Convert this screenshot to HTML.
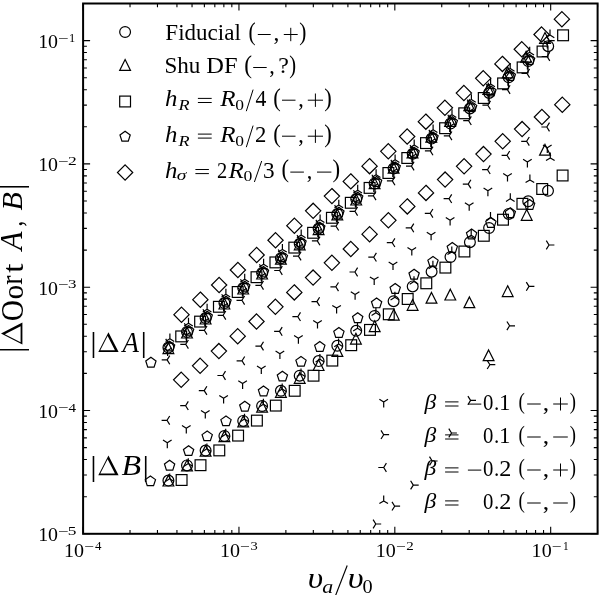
<!DOCTYPE html>
<html><head><meta charset="utf-8"><style>
html,body{margin:0;padding:0;background:#fff;}
body{width:600px;height:595px;overflow:hidden;}
svg{display:block;filter:grayscale(1);}
text{font-family:"Liberation Serif",serif;fill:#000;}
.i{font-style:italic;}
</style></head><body>
<svg width="600" height="595" viewBox="0 0 600 595">
<rect width="600" height="595" fill="#fff"/>
<path d="M83.1 533.8h7M597.6 533.8h-7M83.1 496.68h3.8M597.6 496.68h-3.8M83.1 474.97h3.8M597.6 474.97h-3.8M83.1 459.57h3.8M597.6 459.57h-3.8M83.1 447.62h3.8M597.6 447.62h-3.8M83.1 437.86h3.8M597.6 437.86h-3.8M83.1 429.6h3.8M597.6 429.6h-3.8M83.1 422.45h3.8M597.6 422.45h-3.8M83.1 416.15h3.8M597.6 416.15h-3.8M83.1 410.5h7M597.6 410.5h-7M83.1 373.39h3.8M597.6 373.39h-3.8M83.1 351.68h3.8M597.6 351.68h-3.8M83.1 336.27h3.8M597.6 336.27h-3.8M83.1 324.32h3.8M597.6 324.32h-3.8M83.1 314.56h3.8M597.6 314.56h-3.8M83.1 306.31h3.8M597.6 306.31h-3.8M83.1 299.16h3.8M597.6 299.16h-3.8M83.1 292.85h3.8M597.6 292.85h-3.8M83.1 287.21h7M597.6 287.21h-7M83.1 250.09h3.8M597.6 250.09h-3.8M83.1 228.38h3.8M597.6 228.38h-3.8M83.1 212.98h3.8M597.6 212.98h-3.8M83.1 201.03h3.8M597.6 201.03h-3.8M83.1 191.26h3.8M597.6 191.26h-3.8M83.1 183.01h3.8M597.6 183.01h-3.8M83.1 175.86h3.8M597.6 175.86h-3.8M83.1 169.55h3.8M597.6 169.55h-3.8M83.1 163.91h7M597.6 163.91h-7M83.1 126.8h3.8M597.6 126.8h-3.8M83.1 105.08h3.8M597.6 105.08h-3.8M83.1 89.68h3.8M597.6 89.68h-3.8M83.1 77.73h3.8M597.6 77.73h-3.8M83.1 67.97h3.8M597.6 67.97h-3.8M83.1 59.71h3.8M597.6 59.71h-3.8M83.1 52.56h3.8M597.6 52.56h-3.8M83.1 46.26h3.8M597.6 46.26h-3.8M83.1 40.62h7M597.6 40.62h-7M83.1 3.5h3.8M597.6 3.5h-3.8M83.1 533.8v-7M83.1 3.5v7M130.02 533.8v-3.8M130.02 3.5v3.8M157.46 533.8v-3.8M157.46 3.5v3.8M176.94 533.8v-3.8M176.94 3.5v3.8M192.04 533.8v-3.8M192.04 3.5v3.8M204.38 533.8v-3.8M204.38 3.5v3.8M214.82 533.8v-3.8M214.82 3.5v3.8M223.86 533.8v-3.8M223.86 3.5v3.8M231.83 533.8v-3.8M231.83 3.5v3.8M238.96 533.8v-7M238.96 3.5v7M285.88 533.8v-3.8M285.88 3.5v3.8M313.32 533.8v-3.8M313.32 3.5v3.8M332.8 533.8v-3.8M332.8 3.5v3.8M347.9 533.8v-3.8M347.9 3.5v3.8M360.24 533.8v-3.8M360.24 3.5v3.8M370.68 533.8v-3.8M370.68 3.5v3.8M379.72 533.8v-3.8M379.72 3.5v3.8M387.69 533.8v-3.8M387.69 3.5v3.8M394.82 533.8v-7M394.82 3.5v7M441.74 533.8v-3.8M441.74 3.5v3.8M469.19 533.8v-3.8M469.19 3.5v3.8M488.66 533.8v-3.8M488.66 3.5v3.8M503.76 533.8v-3.8M503.76 3.5v3.8M516.1 533.8v-3.8M516.1 3.5v3.8M526.54 533.8v-3.8M526.54 3.5v3.8M535.58 533.8v-3.8M535.58 3.5v3.8M543.55 533.8v-3.8M543.55 3.5v3.8M550.68 533.8v-7M550.68 3.5v7M597.6 533.8v-3.8M597.6 3.5v3.8" stroke="#000" stroke-width="1.1" fill="none"/>
<g stroke="#000" stroke-width="1.2" fill="none" stroke-linejoin="miter">
<path d="M181.5 307.06L189.14 314.7L181.5 322.34L173.86 314.7Z"/>
<rect x="175.8" y="331" width="10.8" height="10.8"/>
<path d="M200.37 292.03L208 299.66L200.37 307.3L192.73 299.66Z"/>
<rect x="194.7" y="316.2" width="10.8" height="10.8"/>
<path d="M219.13 277.39L226.77 285.03L219.13 292.67L211.49 285.03Z"/>
<rect x="213.5" y="301.4" width="10.8" height="10.8"/>
<path d="M237.9 262.36L245.53 269.99L237.9 277.63L230.26 269.99Z"/>
<rect x="232.3" y="286.6" width="10.8" height="10.8"/>
<path d="M256.66 247.32L264.3 254.96L256.66 262.6L249.02 254.96Z"/>
<rect x="251.1" y="271.8" width="10.8" height="10.8"/>
<path d="M275.52 232.59L283.16 240.22L275.52 247.86L267.89 240.22Z"/>
<rect x="270" y="257" width="10.8" height="10.8"/>
<path d="M294.39 218.05L302.03 225.69L294.39 233.33L286.75 225.69Z"/>
<rect x="288.9" y="242.2" width="10.8" height="10.8"/>
<path d="M313.16 203.22L320.79 210.85L313.16 218.49L305.52 210.85Z"/>
<rect x="307.7" y="227.4" width="10.8" height="10.8"/>
<path d="M331.92 188.48L339.56 196.12L331.92 203.76L324.28 196.12Z"/>
<rect x="326.5" y="212.4" width="10.8" height="10.8"/>
<path d="M350.79 173.75L358.42 181.38L350.79 189.02L343.15 181.38Z"/>
<rect x="345.4" y="197.4" width="10.8" height="10.8"/>
<path d="M369.55 158.51L377.19 166.15L369.55 173.79L361.91 166.15Z"/>
<rect x="364.2" y="182.5" width="10.8" height="10.8"/>
<path d="M388.31 143.68L395.95 151.31L388.31 158.95L380.68 151.31Z"/>
<rect x="383" y="167.6" width="10.8" height="10.8"/>
<path d="M407.18 128.84L414.82 136.48L407.18 144.12L399.54 136.48Z"/>
<rect x="401.9" y="152.6" width="10.8" height="10.8"/>
<path d="M425.85 114.01L433.48 121.65L425.85 129.28L418.21 121.65Z"/>
<rect x="420.6" y="137.7" width="10.8" height="10.8"/>
<path d="M444.91 100.17L452.55 107.81L444.91 115.45L437.27 107.81Z"/>
<rect x="439.7" y="122.8" width="10.8" height="10.8"/>
<path d="M463.88 85.44L471.51 93.08L463.88 100.71L456.24 93.08Z"/>
<rect x="458.83" y="107.9" width="10.8" height="10.8"/>
<path d="M483.24 70.7L490.88 78.34L483.24 85.98L475.6 78.34Z"/>
<rect x="478.36" y="92.6" width="10.8" height="10.8"/>
<path d="M502.4 56.27L510.04 63.91L502.4 71.54L494.77 63.91Z"/>
<rect x="497.69" y="78" width="10.8" height="10.8"/>
<path d="M521.77 41.63L529.41 49.27L521.77 56.91L514.13 49.27Z"/>
<rect x="517.22" y="62" width="10.8" height="10.8"/>
<path d="M541.53 26.9L549.17 34.54L541.53 42.17L533.9 34.54Z"/>
<rect x="537.15" y="46.1" width="10.8" height="10.8"/>
<path d="M561.9 11.56L569.54 19.2L561.9 26.84L554.26 19.2Z"/>
<rect x="557.68" y="29.9" width="10.8" height="10.8"/>
<path d="M150.9 357.3L145.76 361.03L147.73 367.07L154.07 367.07L156.04 361.03Z"/>
<path d="M169.6 341.19L164.46 344.92L166.43 350.96L172.77 350.96L174.74 344.92Z"/>
<path d="M188.6 325.4L183.46 329.13L185.43 335.16L191.77 335.16L193.74 329.13Z"/>
<path d="M207.2 311.32L202.06 315.05L204.03 321.09L210.37 321.09L212.34 315.05Z"/>
<path d="M226 296.32L220.86 300.05L222.83 306.09L229.17 306.09L231.14 300.05Z"/>
<path d="M244.8 281.33L239.66 285.06L241.63 291.1L247.97 291.1L249.94 285.06Z"/>
<path d="M263.5 266.5L258.36 270.23L260.33 276.27L266.67 276.27L268.64 270.23Z"/>
<path d="M282.4 251.65L277.26 255.38L279.23 261.42L285.57 261.42L287.54 255.38Z"/>
<path d="M301 237.35L295.86 241.09L297.83 247.12L304.17 247.12L306.14 241.09Z"/>
<path d="M319.8 222.26L314.66 225.99L316.63 232.03L322.97 232.03L324.94 225.99Z"/>
<path d="M338.9 207.24L333.76 210.97L335.73 217.01L342.07 217.01L344.04 210.97Z"/>
<path d="M357.7 192.34L352.56 196.07L354.53 202.11L360.87 202.11L362.84 196.07Z"/>
<path d="M376.6 176.53L371.46 180.26L373.43 186.3L379.77 186.3L381.74 180.26Z"/>
<path d="M395.2 161.96L390.06 165.69L392.03 171.73L398.37 171.73L400.34 165.69Z"/>
<path d="M414.1 147.27L408.96 151.01L410.93 157.04L417.27 157.04L419.24 151.01Z"/>
<path d="M433 132.08L427.86 135.81L429.83 141.85L436.17 141.85L438.14 135.81Z"/>
<path d="M452.3 116.7L447.16 120.43L449.13 126.47L455.47 126.47L457.44 120.43Z"/>
<path d="M471.6 101.63L466.46 105.36L468.43 111.4L474.77 111.4L476.74 105.36Z"/>
<path d="M490.9 86.07L485.76 89.8L487.73 95.84L494.07 95.84L496.04 89.8Z"/>
<path d="M510.3 70.56L505.16 74.29L507.13 80.33L513.47 80.33L515.44 74.29Z"/>
<path d="M529.6 54.55L524.46 58.28L526.43 64.32L532.77 64.32L534.74 58.28Z"/>
<circle cx="168.4" cy="347.6" r="5.4"/>
<path d="M168.4 342.8L173.8 353.6L163 353.6Z"/>
<path d="M169.9 338.8L169.9 333.4M169.9 338.8L165.58 341.5M169.9 338.8L174.22 341.5"/>
<path d="M168.4 343.2L173.8 343.2M168.4 343.2L165.7 338.88M168.4 343.2L165.7 347.52"/>
<path d="M167.6 350.6L167.6 356M167.6 350.6L171.92 347.9M167.6 350.6L163.28 347.9"/>
<path d="M167.1 359.9L161.7 359.9M167.1 359.9L169.8 364.22M167.1 359.9L169.8 355.58"/>
<circle cx="187" cy="332" r="5.4"/>
<path d="M187 327.2L192.4 338L181.6 338Z"/>
<path d="M188.5 323.2L188.5 317.8M188.5 323.2L184.18 325.9M188.5 323.2L192.82 325.9"/>
<path d="M187 327.6L192.4 327.6M187 327.6L184.3 323.28M187 327.6L184.3 331.92"/>
<path d="M186.2 335L186.2 340.4M186.2 335L190.52 332.3M186.2 335L181.88 332.3"/>
<path d="M185.7 344.3L180.3 344.3M185.7 344.3L188.4 348.62M185.7 344.3L188.4 339.98"/>
<circle cx="205.6" cy="318" r="5.4"/>
<path d="M205.6 313.2L211 324L200.2 324Z"/>
<path d="M207.1 309.2L207.1 303.8M207.1 309.2L202.78 311.9M207.1 309.2L211.42 311.9"/>
<path d="M205.6 313.6L211 313.6M205.6 313.6L202.9 309.28M205.6 313.6L202.9 317.92"/>
<path d="M204.8 321L204.8 326.4M204.8 321L209.12 318.3M204.8 321L200.48 318.3"/>
<path d="M204.3 330.3L198.9 330.3M204.3 330.3L207 334.62M204.3 330.3L207 325.98"/>
<circle cx="224.4" cy="303" r="5.4"/>
<path d="M224.4 298.2L229.8 309L219 309Z"/>
<path d="M225.9 294.2L225.9 288.8M225.9 294.2L221.58 296.9M225.9 294.2L230.22 296.9"/>
<path d="M224.4 298.6L229.8 298.6M224.4 298.6L221.7 294.28M224.4 298.6L221.7 302.92"/>
<path d="M223.6 306L223.6 311.4M223.6 306L227.92 303.3M223.6 306L219.28 303.3"/>
<path d="M223.1 315.3L217.7 315.3M223.1 315.3L225.8 319.62M223.1 315.3L225.8 310.98"/>
<circle cx="243.2" cy="288" r="5.4"/>
<path d="M243.2 283.2L248.6 294L237.8 294Z"/>
<path d="M244.7 279.2L244.7 273.8M244.7 279.2L240.38 281.9M244.7 279.2L249.02 281.9"/>
<path d="M243.2 283.6L248.6 283.6M243.2 283.6L240.5 279.28M243.2 283.6L240.5 287.92"/>
<path d="M242.4 291L242.4 296.4M242.4 291L246.72 288.3M242.4 291L238.08 288.3"/>
<path d="M241.9 300.3L236.5 300.3M241.9 300.3L244.6 304.62M241.9 300.3L244.6 295.98"/>
<circle cx="262.1" cy="273" r="5.4"/>
<path d="M262.1 268.2L267.5 279L256.7 279Z"/>
<path d="M263.6 264.2L263.6 258.8M263.6 264.2L259.28 266.9M263.6 264.2L267.92 266.9"/>
<path d="M262.1 268.6L267.5 268.6M262.1 268.6L259.4 264.28M262.1 268.6L259.4 272.92"/>
<path d="M261.3 276L261.3 281.4M261.3 276L265.62 273.3M261.3 276L256.98 273.3"/>
<path d="M260.8 285.3L255.4 285.3M260.8 285.3L263.5 289.62M260.8 285.3L263.5 280.98"/>
<circle cx="280.9" cy="258.2" r="5.4"/>
<path d="M280.9 253.4L286.3 264.2L275.5 264.2Z"/>
<path d="M282.4 249.4L282.4 244M282.4 249.4L278.08 252.1M282.4 249.4L286.72 252.1"/>
<path d="M280.9 253.8L286.3 253.8M280.9 253.8L278.2 249.48M280.9 253.8L278.2 258.12"/>
<path d="M280.1 261.2L280.1 266.6M280.1 261.2L284.42 258.5M280.1 261.2L275.78 258.5"/>
<path d="M279.6 270.5L274.2 270.5M279.6 270.5L282.3 274.82M279.6 270.5L282.3 266.18"/>
<circle cx="299.7" cy="243.8" r="5.4"/>
<path d="M299.7 239L305.1 249.8L294.3 249.8Z"/>
<path d="M301.2 235L301.2 229.6M301.2 235L296.88 237.7M301.2 235L305.52 237.7"/>
<path d="M299.7 239.4L305.1 239.4M299.7 239.4L297 235.08M299.7 239.4L297 243.72"/>
<path d="M298.9 246.8L298.9 252.2M298.9 246.8L303.22 244.1M298.9 246.8L294.58 244.1"/>
<path d="M298.4 256.1L293 256.1M298.4 256.1L301.1 260.42M298.4 256.1L301.1 251.78"/>
<circle cx="318.6" cy="228.6" r="5.4"/>
<path d="M318.6 223.8L324 234.6L313.2 234.6Z"/>
<path d="M320.1 219.8L320.1 214.4M320.1 219.8L315.78 222.5M320.1 219.8L324.42 222.5"/>
<path d="M318.6 224.2L324 224.2M318.6 224.2L315.9 219.88M318.6 224.2L315.9 228.52"/>
<path d="M317.8 231.6L317.8 237M317.8 231.6L322.12 228.9M317.8 231.6L313.48 228.9"/>
<path d="M317.3 240.9L311.9 240.9M317.3 240.9L320 245.22M317.3 240.9L320 236.58"/>
<circle cx="337.3" cy="213.9" r="5.4"/>
<path d="M337.3 209.1L342.7 219.9L331.9 219.9Z"/>
<path d="M338.8 205.1L338.8 199.7M338.8 205.1L334.48 207.8M338.8 205.1L343.12 207.8"/>
<path d="M337.3 209.5L342.7 209.5M337.3 209.5L334.6 205.18M337.3 209.5L334.6 213.82"/>
<path d="M336.5 216.9L336.5 222.3M336.5 216.9L340.82 214.2M336.5 216.9L332.18 214.2"/>
<path d="M336 226.2L330.6 226.2M336 226.2L338.7 230.52M336 226.2L338.7 221.88"/>
<circle cx="356.2" cy="199" r="5.4"/>
<path d="M356.2 194.2L361.6 205L350.8 205Z"/>
<path d="M357.7 190.2L357.7 184.8M357.7 190.2L353.38 192.9M357.7 190.2L362.02 192.9"/>
<path d="M356.2 194.6L361.6 194.6M356.2 194.6L353.5 190.28M356.2 194.6L353.5 198.92"/>
<path d="M355.4 202L355.4 207.4M355.4 202L359.72 199.3M355.4 202L351.08 199.3"/>
<path d="M354.9 211.3L349.5 211.3M354.9 211.3L357.6 215.62M354.9 211.3L357.6 206.98"/>
<circle cx="374.6" cy="183.5" r="5.4"/>
<path d="M374.6 177.8L380 188.6L369.2 188.6Z"/>
<path d="M376.1 174.7L376.1 169.3M376.1 174.7L371.78 177.4M376.1 174.7L380.42 177.4"/>
<path d="M374.6 179.1L380 179.1M374.6 179.1L371.9 174.78M374.6 179.1L371.9 183.42"/>
<path d="M373.8 186.5L373.8 191.9M373.8 186.5L378.12 183.8M373.8 186.5L369.48 183.8"/>
<path d="M373.3 195.8L367.9 195.8M373.3 195.8L376 200.12M373.3 195.8L376 191.48"/>
<circle cx="393.6" cy="168.6" r="5.4"/>
<path d="M393.6 162.4L399 173.2L388.2 173.2Z"/>
<path d="M395.1 159.8L395.1 154.4M395.1 159.8L390.78 162.5M395.1 159.8L399.42 162.5"/>
<path d="M393.6 164.2L399 164.2M393.6 164.2L390.9 159.88M393.6 164.2L390.9 168.52"/>
<path d="M392.8 171.6L392.8 177M392.8 171.6L397.12 168.9M392.8 171.6L388.48 168.9"/>
<path d="M392.3 180.9L386.9 180.9M392.3 180.9L395 185.22M392.3 180.9L395 176.58"/>
<circle cx="412.7" cy="153.8" r="5.4"/>
<path d="M412.5 147.1L417.9 157.9L407.1 157.9Z"/>
<path d="M414.2 145L414.2 139.6M414.2 145L409.88 147.7M414.2 145L418.52 147.7"/>
<path d="M412.7 149.4L418.1 149.4M412.7 149.4L410 145.08M412.7 149.4L410 153.72"/>
<path d="M411.9 156.8L411.9 162.2M411.9 156.8L416.22 154.1M411.9 156.8L407.58 154.1"/>
<path d="M411.4 166.1L406 166.1M411.4 166.1L414.1 170.42M411.4 166.1L414.1 161.78"/>
<circle cx="431.6" cy="138.6" r="5.4"/>
<path d="M431.3 131.4L436.7 142.2L425.9 142.2Z"/>
<path d="M433.1 129.8L433.1 124.4M433.1 129.8L428.78 132.5M433.1 129.8L437.42 132.5"/>
<path d="M431.6 134.2L437 134.2M431.6 134.2L428.9 129.88M431.6 134.2L428.9 138.52"/>
<path d="M430.8 141.6L430.8 147M430.8 141.6L435.12 138.9M430.8 141.6L426.48 138.9"/>
<path d="M430.3 150.9L424.9 150.9M430.3 150.9L433 155.22M430.3 150.9L433 146.58"/>
<circle cx="450.5" cy="123.5" r="5.4"/>
<path d="M450.1 115.7L455.5 126.5L444.7 126.5Z"/>
<path d="M452 114.7L452 109.3M452 114.7L447.68 117.4M452 114.7L456.32 117.4"/>
<path d="M450.5 119.1L455.9 119.1M450.5 119.1L447.8 114.78M450.5 119.1L447.8 123.42"/>
<path d="M449.7 126.5L449.7 131.9M449.7 126.5L454.02 123.8M449.7 126.5L445.38 123.8"/>
<path d="M449.2 135.8L443.8 135.8M449.2 135.8L451.9 140.12M449.2 135.8L451.9 131.48"/>
<circle cx="469.9" cy="108.4" r="5.4"/>
<path d="M469.3 99.8L474.7 110.6L463.9 110.6Z"/>
<path d="M471.4 99.6L471.4 94.2M471.4 99.6L467.08 102.3M471.4 99.6L475.72 102.3"/>
<path d="M469.9 104L475.3 104M469.9 104L467.2 99.68M469.9 104L467.2 108.32"/>
<path d="M469.1 111.4L469.1 116.8M469.1 111.4L473.42 108.7M469.1 111.4L464.78 108.7"/>
<path d="M468.6 120.7L463.2 120.7M468.6 120.7L471.3 125.02M468.6 120.7L471.3 116.38"/>
<circle cx="489.1" cy="92.9" r="5.4"/>
<path d="M488.3 83.5L493.7 94.3L482.9 94.3Z"/>
<path d="M490.6 84.1L490.6 78.7M490.6 84.1L486.28 86.8M490.6 84.1L494.92 86.8"/>
<path d="M489.1 88.5L494.5 88.5M489.1 88.5L486.4 84.18M489.1 88.5L486.4 92.82"/>
<path d="M488.3 95.9L488.3 101.3M488.3 95.9L492.62 93.2M488.3 95.9L483.98 93.2"/>
<path d="M487.8 105.2L482.4 105.2M487.8 105.2L490.5 109.52M487.8 105.2L490.5 100.88"/>
<circle cx="508.7" cy="77.3" r="5.4"/>
<path d="M507.7 67.1L513.1 77.9L502.3 77.9Z"/>
<path d="M510.2 68.5L510.2 63.1M510.2 68.5L505.88 71.2M510.2 68.5L514.52 71.2"/>
<path d="M508.7 72.9L514.1 72.9M508.7 72.9L506 68.58M508.7 72.9L506 77.22"/>
<path d="M507.9 80.3L507.9 85.7M507.9 80.3L512.22 77.6M507.9 80.3L503.58 77.6"/>
<path d="M507.4 89.6L502 89.6M507.4 89.6L510.1 93.92M507.4 89.6L510.1 85.28"/>
<circle cx="528.2" cy="61" r="5.4"/>
<path d="M526.1 51.3L531.5 62.1L520.7 62.1Z"/>
<path d="M529.7 52.2L529.7 46.8M529.7 52.2L525.38 54.9M529.7 52.2L534.02 54.9"/>
<path d="M528.2 56.6L533.6 56.6M528.2 56.6L525.5 52.28M528.2 56.6L525.5 60.92"/>
<path d="M527.4 64L527.4 69.4M527.4 64L531.72 61.3M527.4 64L523.08 61.3"/>
<path d="M526.9 73.3L521.5 73.3M526.9 73.3L529.6 77.62M526.9 73.3L529.6 68.98"/>
<circle cx="548.2" cy="46.2" r="5.4"/>
<path d="M545 32.5L550.4 43.3L539.6 43.3Z"/>
<path d="M550 35L550 29.6M550 35L545.68 37.7M550 35L554.32 37.7"/>
<path d="M549.3 40.6L554.7 40.6M549.3 40.6L546.6 36.28M549.3 40.6L546.6 44.92"/>
<path d="M547.3 43L547.3 48.4M547.3 43L551.62 40.3M547.3 43L542.98 40.3"/>
<path d="M547.1 56.5L541.7 56.5M547.1 56.5L549.8 60.82M547.1 56.5L549.8 52.18"/>
<path d="M181.2 372.16L188.84 379.8L181.2 387.44L173.56 379.8Z"/>
<rect x="176.2" y="474.6" width="10.8" height="10.8"/>
<path d="M150.4 475.9L145.26 479.63L147.23 485.67L153.57 485.67L155.54 479.63Z"/>
<circle cx="168.4" cy="480.6" r="5.4"/>
<path d="M168.4 475.2L173.8 486L163 486Z"/>
<path d="M167.3 442.8L167.3 448.2M167.3 442.8L171.62 440.1M167.3 442.8L162.98 440.1"/>
<path d="M167 420.3L161.6 420.3M167 420.3L169.7 424.62M167 420.3L169.7 415.98"/>
<path d="M169.7 478.8L169.7 473.4M169.7 478.8L165.38 481.5M169.7 478.8L174.02 481.5"/>
<path d="M200.1 358.16L207.74 365.8L200.1 373.44L192.46 365.8Z"/>
<rect x="195.1" y="459.8" width="10.8" height="10.8"/>
<path d="M169.6 460.3L164.46 464.03L166.43 470.07L172.77 470.07L174.74 464.03Z"/>
<circle cx="187" cy="465.4" r="5.4"/>
<path d="M187 460L192.4 470.8L181.6 470.8Z"/>
<path d="M186.3 428.2L186.3 433.6M186.3 428.2L190.62 425.5M186.3 428.2L181.98 425.5"/>
<path d="M185.6 405.7L180.2 405.7M185.6 405.7L188.3 410.02M185.6 405.7L188.3 401.38"/>
<path d="M188.3 463.6L188.3 458.2M188.3 463.6L183.98 466.3M188.3 463.6L192.62 466.3"/>
<path d="M218.9 343.46L226.54 351.1L218.9 358.74L211.26 351.1Z"/>
<rect x="213.9" y="445" width="10.8" height="10.8"/>
<path d="M188.6 445.7L183.46 449.43L185.43 455.47L191.77 455.47L193.74 449.43Z"/>
<circle cx="205.6" cy="450.6" r="5.4"/>
<path d="M205.6 445.4L211 456.2L200.2 456.2Z"/>
<path d="M205.3 413.2L205.3 418.6M205.3 413.2L209.62 410.5M205.3 413.2L200.98 410.5"/>
<path d="M204.2 390.6L198.8 390.6M204.2 390.6L206.9 394.92M204.2 390.6L206.9 386.28"/>
<path d="M206.9 448.8L206.9 443.4M206.9 448.8L202.58 451.5M206.9 448.8L211.22 451.5"/>
<path d="M237.7 328.56L245.34 336.2L237.7 343.84L230.06 336.2Z"/>
<rect x="232.7" y="430.2" width="10.8" height="10.8"/>
<path d="M207.2 430.9L202.06 434.63L204.03 440.67L210.37 440.67L212.34 434.63Z"/>
<circle cx="224.4" cy="436" r="5.4"/>
<path d="M224.4 430.9L229.8 441.7L219 441.7Z"/>
<path d="M223.6 398.2L223.6 403.6M223.6 398.2L227.92 395.5M223.6 398.2L219.28 395.5"/>
<path d="M222.8 375.5L217.4 375.5M222.8 375.5L225.5 379.82M222.8 375.5L225.5 371.18"/>
<path d="M225.7 434.2L225.7 428.8M225.7 434.2L221.38 436.9M225.7 434.2L230.02 436.9"/>
<path d="M256.5 313.86L264.14 321.5L256.5 329.14L248.86 321.5Z"/>
<rect x="251.5" y="415.2" width="10.8" height="10.8"/>
<path d="M226 415.9L220.86 419.63L222.83 425.67L229.17 425.67L231.14 419.63Z"/>
<circle cx="243.2" cy="420.9" r="5.4"/>
<path d="M243.2 416L248.6 426.8L237.8 426.8Z"/>
<path d="M242.6 383.5L242.6 388.9M242.6 383.5L246.92 380.8M242.6 383.5L238.28 380.8"/>
<path d="M242 360.8L236.6 360.8M242 360.8L244.7 365.12M242 360.8L244.7 356.48"/>
<path d="M244.5 419.1L244.5 413.7M244.5 419.1L240.18 421.8M244.5 419.1L248.82 421.8"/>
<path d="M275.4 299.16L283.04 306.8L275.4 314.44L267.76 306.8Z"/>
<rect x="270.4" y="400.2" width="10.8" height="10.8"/>
<path d="M244.8 401.3L239.66 405.03L241.63 411.07L247.97 411.07L249.94 405.03Z"/>
<circle cx="262.1" cy="406" r="5.4"/>
<path d="M262.1 401.3L267.5 412.1L256.7 412.1Z"/>
<path d="M261.3 368.7L261.3 374.1M261.3 368.7L265.62 366M261.3 368.7L256.98 366"/>
<path d="M260.8 346.1L255.4 346.1M260.8 346.1L263.5 350.42M260.8 346.1L263.5 341.78"/>
<path d="M263.4 404.2L263.4 398.8M263.4 404.2L259.08 406.9M263.4 404.2L267.72 406.9"/>
<path d="M294.3 284.76L301.94 292.4L294.3 300.04L286.66 292.4Z"/>
<rect x="289.3" y="385.4" width="10.8" height="10.8"/>
<path d="M263.5 386.1L258.36 389.83L260.33 395.87L266.67 395.87L268.64 389.83Z"/>
<circle cx="280.9" cy="390.8" r="5.4"/>
<path d="M280.9 386.5L286.3 397.3L275.5 397.3Z"/>
<path d="M279.9 353.7L279.9 359.1M279.9 353.7L284.22 351M279.9 353.7L275.58 351"/>
<path d="M279.5 331.4L274.1 331.4M279.5 331.4L282.2 335.72M279.5 331.4L282.2 327.08"/>
<path d="M282.2 389L282.2 383.6M282.2 389L277.88 391.7M282.2 389L286.52 391.7"/>
<path d="M313.1 269.96L320.74 277.6L313.1 285.24L305.46 277.6Z"/>
<rect x="308.1" y="370.3" width="10.8" height="10.8"/>
<path d="M282.4 371.2L277.26 374.93L279.23 380.97L285.57 380.97L287.54 374.93Z"/>
<circle cx="299.7" cy="375.7" r="5.4"/>
<path d="M299.7 372.5L305.1 383.3L294.3 383.3Z"/>
<path d="M298.4 338.3L298.4 343.7M298.4 338.3L302.72 335.6M298.4 338.3L294.08 335.6"/>
<path d="M297.8 316.7L292.4 316.7M297.8 316.7L300.5 321.02M297.8 316.7L300.5 312.38"/>
<path d="M301 373.9L301 368.5M301 373.9L296.68 376.6M301 373.9L305.32 376.6"/>
<path d="M331.9 255.16L339.54 262.8L331.9 270.44L324.26 262.8Z"/>
<rect x="326.9" y="355.2" width="10.8" height="10.8"/>
<path d="M301 356.4L295.86 360.13L297.83 366.17L304.17 366.17L306.14 360.13Z"/>
<circle cx="318.6" cy="361.1" r="5.4"/>
<path d="M318.6 359.7L324 370.5L313.2 370.5Z"/>
<path d="M317.5 323.2L317.5 328.6M317.5 323.2L321.82 320.5M317.5 323.2L313.18 320.5"/>
<path d="M316.9 301.6L311.5 301.6M316.9 301.6L319.6 305.92M316.9 301.6L319.6 297.28"/>
<path d="M319.9 359.3L319.9 353.9M319.9 359.3L315.58 362M319.9 359.3L324.22 362"/>
<path d="M350.8 241.36L358.44 249L350.8 256.64L343.16 249Z"/>
<rect x="345.8" y="339.8" width="10.8" height="10.8"/>
<path d="M319.8 341.6L314.66 345.33L316.63 351.37L322.97 351.37L324.94 345.33Z"/>
<circle cx="337.3" cy="345.8" r="5.4"/>
<path d="M337.4 345.6L342.8 356.4L332 356.4Z"/>
<path d="M336.6 308.1L336.6 313.5M336.6 308.1L340.92 305.4M336.6 308.1L332.28 305.4"/>
<path d="M335.8 286.8L330.4 286.8M335.8 286.8L338.5 291.12M335.8 286.8L338.5 282.48"/>
<path d="M338.6 344L338.6 338.6M338.6 344L334.28 346.7M338.6 344L342.92 346.7"/>
<path d="M369.6 226.56L377.24 234.2L369.6 241.84L361.96 234.2Z"/>
<rect x="364.6" y="324.5" width="10.8" height="10.8"/>
<path d="M338.9 327.6L333.76 331.33L335.73 337.37L342.07 337.37L344.04 331.33Z"/>
<circle cx="356.2" cy="330.8" r="5.4"/>
<path d="M355.9 333.3L361.3 344.1L350.5 344.1Z"/>
<path d="M355.1 294.4L355.1 299.8M355.1 294.4L359.42 291.7M355.1 294.4L350.78 291.7"/>
<path d="M354.9 272L349.5 272M354.9 272L357.6 276.32M354.9 272L357.6 267.68"/>
<path d="M357.5 328.3L357.5 322.9M357.5 328.3L353.18 331M357.5 328.3L361.82 331"/>
<path d="M388.4 212.66L396.04 220.3L388.4 227.94L380.76 220.3Z"/>
<rect x="383.4" y="308.9" width="10.8" height="10.8"/>
<path d="M357.7 312.8L352.56 316.53L354.53 322.57L360.87 322.57L362.84 316.53Z"/>
<circle cx="374.6" cy="316" r="5.4"/>
<path d="M374.7 320.8L380.1 331.6L369.3 331.6Z"/>
<path d="M374.2 279.6L374.2 285M374.2 279.6L378.52 276.9M374.2 279.6L369.88 276.9"/>
<path d="M373.7 257.2L368.3 257.2M373.7 257.2L376.4 261.52M373.7 257.2L376.4 252.88"/>
<path d="M375.9 312.8L375.9 307.4M375.9 312.8L371.58 315.5M375.9 312.8L380.22 315.5"/>
<path d="M407.3 198.76L414.94 206.4L407.3 214.04L399.66 206.4Z"/>
<rect x="402.3" y="293.6" width="10.8" height="10.8"/>
<path d="M376.6 298L371.46 301.73L373.43 307.77L379.77 307.77L381.74 301.73Z"/>
<circle cx="393.6" cy="301.2" r="5.4"/>
<path d="M393.8 309.3L399.2 320.1L388.4 320.1Z"/>
<path d="M393 264.7L393 270.1M393 264.7L397.32 262M393 264.7L388.68 262"/>
<path d="M392.2 242.7L386.8 242.7M392.2 242.7L394.9 247.02M392.2 242.7L394.9 238.38"/>
<path d="M394.9 297.2L394.9 291.8M394.9 297.2L390.58 299.9M394.9 297.2L399.22 299.9"/>
<path d="M426 185.26L433.64 192.9L426 200.54L418.36 192.9Z"/>
<rect x="420.9" y="277.9" width="10.8" height="10.8"/>
<path d="M395.2 283.6L390.06 287.33L392.03 293.37L398.37 293.37L400.34 287.33Z"/>
<circle cx="412.7" cy="286.4" r="5.4"/>
<path d="M412.6 299.5L418 310.3L407.2 310.3Z"/>
<path d="M411.8 250.2L411.8 255.6M411.8 250.2L416.12 247.5M411.8 250.2L407.48 247.5"/>
<path d="M411.1 227.9L405.7 227.9M411.1 227.9L413.8 232.22M411.1 227.9L413.8 223.58"/>
<path d="M414 281.6L414 276.2M414 281.6L409.68 284.3M414 281.6L418.32 284.3"/>
<path d="M445.1 171.96L452.74 179.6L445.1 187.24L437.46 179.6Z"/>
<rect x="440" y="262.2" width="10.8" height="10.8"/>
<path d="M414.1 269.3L408.96 273.03L410.93 279.07L417.27 279.07L419.24 273.03Z"/>
<circle cx="431.6" cy="271.7" r="5.4"/>
<path d="M431.5 292.4L436.9 303.2L426.1 303.2Z"/>
<path d="M431.1 234.9L431.1 240.3M431.1 234.9L435.42 232.2M431.1 234.9L426.78 232.2"/>
<path d="M430.2 213.3L424.8 213.3M430.2 213.3L432.9 217.62M430.2 213.3L432.9 208.98"/>
<path d="M432.9 266.1L432.9 260.7M432.9 266.1L428.58 268.8M432.9 266.1L437.22 268.8"/>
<path d="M464.1 158.66L471.74 166.3L464.1 173.94L456.46 166.3Z"/>
<rect x="459" y="246.1" width="10.8" height="10.8"/>
<path d="M433 256.4L427.86 260.13L429.83 266.17L436.17 266.17L438.14 260.13Z"/>
<circle cx="450.5" cy="257" r="5.4"/>
<path d="M450.3 289.2L455.7 300L444.9 300Z"/>
<path d="M450.1 220.2L450.1 225.6M450.1 220.2L454.42 217.5M450.1 220.2L445.78 217.5"/>
<path d="M449 198.7L443.6 198.7M449 198.7L451.7 203.02M449 198.7L451.7 194.38"/>
<path d="M451.8 251.9L451.8 246.5M451.8 251.9L447.48 254.6M451.8 251.9L456.12 254.6"/>
<path d="M483.5 146.46L491.14 154.1L483.5 161.74L475.86 154.1Z"/>
<rect x="478.4" y="230.4" width="10.8" height="10.8"/>
<path d="M452.3 242.6L447.16 246.33L449.13 252.37L455.47 252.37L457.44 246.33Z"/>
<circle cx="469.9" cy="242.2" r="5.4"/>
<path d="M469.4 296.9L474.8 307.7L464 307.7Z"/>
<path d="M469.2 205.4L469.2 210.8M469.2 205.4L473.52 202.7M469.2 205.4L464.88 202.7"/>
<path d="M468.2 184.1L462.8 184.1M468.2 184.1L470.9 188.42M468.2 184.1L470.9 179.78"/>
<path d="M471.2 235.2L471.2 229.8M471.2 235.2L466.88 237.9M471.2 235.2L475.52 237.9"/>
<path d="M502.7 133.66L510.34 141.3L502.7 148.94L495.06 141.3Z"/>
<rect x="497.6" y="214.3" width="10.8" height="10.8"/>
<path d="M471.6 229.1L466.46 232.83L468.43 238.87L474.77 238.87L476.74 232.83Z"/>
<circle cx="489.1" cy="228" r="5.4"/>
<path d="M488.6 349.9L494 360.7L483.2 360.7Z"/>
<path d="M487.9 190.8L487.9 196.2M487.9 190.8L492.22 188.1M487.9 190.8L483.58 188.1"/>
<path d="M487.5 169.7L482.1 169.7M487.5 169.7L490.2 174.02M487.5 169.7L490.2 165.38"/>
<path d="M522.1 121.46L529.74 129.1L522.1 136.74L514.46 129.1Z"/>
<rect x="517" y="198.4" width="10.8" height="10.8"/>
<path d="M490.9 217.6L485.76 221.33L487.73 227.37L494.07 227.37L496.04 221.33Z"/>
<circle cx="508.7" cy="213.9" r="5.4"/>
<path d="M507.7 285.8L513.1 296.6L502.3 296.6Z"/>
<path d="M507.5 176.2L507.5 181.6M507.5 176.2L511.82 173.5M507.5 176.2L503.18 173.5"/>
<path d="M507 155.3L501.6 155.3M507 155.3L509.7 159.62M507 155.3L509.7 150.98"/>
<path d="M541.9 109.36L549.54 117L541.9 124.64L534.26 117Z"/>
<rect x="536.8" y="183.6" width="10.8" height="10.8"/>
<path d="M510.3 207.8L505.16 211.53L507.13 217.57L513.47 217.57L515.44 211.53Z"/>
<circle cx="528.2" cy="201.3" r="5.4"/>
<path d="M526.7 209.5L532.1 220.3L521.3 220.3Z"/>
<path d="M527.4 162L527.4 167.4M527.4 162L531.72 159.3M527.4 162L523.08 159.3"/>
<path d="M526.6 141.3L521.2 141.3M526.6 141.3L529.3 145.62M526.6 141.3L529.3 136.98"/>
<path d="M562.3 97.06L569.94 104.7L562.3 112.34L554.66 104.7Z"/>
<rect x="557.2" y="170.1" width="10.8" height="10.8"/>
<path d="M529.6 199.6L524.46 203.33L526.43 209.37L532.77 209.37L534.74 203.33Z"/>
<circle cx="548" cy="190.8" r="5.4"/>
<path d="M545 144.4L550.4 155.2L539.6 155.2Z"/>
<path d="M547.3 147.7L547.3 153.1M547.3 147.7L551.62 145M547.3 147.7L542.98 145"/>
<path d="M546.8 127L541.4 127M546.8 127L549.5 131.32M546.8 127L549.5 122.68"/>
<path d="M490.5 217.5L490.5 212.1M490.5 217.5L486.18 220.2M490.5 217.5L494.82 220.2"/>
<path d="M510.3 198.7L510.3 193.3M510.3 198.7L505.98 201.4M510.3 198.7L514.62 201.4"/>
<path d="M529.9 179.9L529.9 174.5M529.9 179.9L525.58 182.6M529.9 179.9L534.22 182.6"/>
<path d="M550.3 157.9L550.3 152.5M550.3 157.9L545.98 160.6M550.3 157.9L554.62 160.6"/>
<path d="M375.8 524L381.2 524M375.8 524L373.1 519.68M375.8 524L373.1 528.32"/>
<path d="M394.7 506.2L400.1 506.2M394.7 506.2L392 501.88M394.7 506.2L392 510.52"/>
<path d="M413.3 485.1L418.7 485.1M413.3 485.1L410.6 480.78M413.3 485.1L410.6 489.42"/>
<path d="M432.2 461L437.6 461M432.2 461L429.5 456.68M432.2 461L429.5 465.32"/>
<path d="M451.5 433L456.9 433M451.5 433L448.8 428.68M451.5 433L448.8 437.32"/>
<path d="M470.6 400.4L476 400.4M470.6 400.4L467.9 396.08M470.6 400.4L467.9 404.72"/>
<path d="M489.9 364.7L495.3 364.7M489.9 364.7L487.2 360.38M489.9 364.7L487.2 369.02"/>
<path d="M509.6 325.8L515 325.8M509.6 325.8L506.9 321.48M509.6 325.8L506.9 330.12"/>
<path d="M529 286.4L534.4 286.4M529 286.4L526.3 282.08M529 286.4L526.3 290.72"/>
<path d="M549 245L554.4 245M549 245L546.3 240.68M549 245L546.3 249.32"/>
<circle cx="125.1" cy="32" r="5.4"/>
<path d="M125.1 59.6L130.5 70.4L119.7 70.4Z"/>
<rect x="119.7" y="96.1" width="10.8" height="10.8"/>
<path d="M125.1 131.3L119.96 135.03L121.93 141.07L128.27 141.07L130.24 135.03Z"/>
<path d="M125.1 164.86L132.74 172.5L125.1 180.14L117.46 172.5Z"/>
<path d="M383.7 402L383.7 407.4M383.7 402L388.02 399.3M383.7 402L379.38 399.3"/>
<path d="M383.7 434.7L389.1 434.7M383.7 434.7L381 430.38M383.7 434.7L381 439.02"/>
<path d="M383.7 467.5L378.3 467.5M383.7 467.5L386.4 471.82M383.7 467.5L386.4 463.18"/>
<path d="M383.7 500.9L383.7 495.5M383.7 500.9L379.38 503.6M383.7 500.9L388.02 503.6"/>
</g>
<rect x="83.1" y="3.5" width="514.5" height="530.3" fill="none" stroke="#000" stroke-width="2"/>
<text font-size="18.60" transform="translate(38.15 541.30) scale(1.0703 1.0000)">10</text>
<text font-size="12.90" transform="translate(57.67 535.70) scale(1.4493 1.0000)">−</text>
<text font-size="12.90" transform="translate(67.79 534.90) scale(1.3471 1.0000)">5</text>
<text font-size="18.60" transform="translate(38.15 418.00) scale(1.0703 1.0000)">10</text>
<text font-size="12.90" transform="translate(57.67 412.40) scale(1.4493 1.0000)">−</text>
<text font-size="12.90" transform="translate(68.51 411.60) scale(1.1674 1.0000)">4</text>
<text font-size="18.60" transform="translate(38.15 294.71) scale(1.0703 1.0000)">10</text>
<text font-size="12.90" transform="translate(57.67 289.11) scale(1.4493 1.0000)">−</text>
<text font-size="12.90" transform="translate(67.99 288.31) scale(1.3136 1.0000)">3</text>
<text font-size="18.60" transform="translate(38.15 171.41) scale(1.0703 1.0000)">10</text>
<text font-size="12.90" transform="translate(57.67 165.81) scale(1.4493 1.0000)">−</text>
<text font-size="12.90" transform="translate(68.03 165.01) scale(1.3536 1.0000)">2</text>
<text font-size="18.60" transform="translate(38.15 48.12) scale(1.0703 1.0000)">10</text>
<text font-size="12.90" transform="translate(57.67 42.52) scale(1.4493 1.0000)">−</text>
<text font-size="12.90" transform="translate(69.10 41.72) scale(0.9689 1.0000)">1</text>
<text font-size="18.60" transform="translate(64.04 557.00) scale(1.0765 1.0000)">10</text>
<text font-size="12.90" transform="translate(83.93 551.00) scale(1.3494 1.0000)">−</text>
<text font-size="12.90" transform="translate(95.05 550.00) scale(1.0006 1.0000)">4</text>
<text font-size="18.60" transform="translate(219.90 557.00) scale(1.0765 1.0000)">10</text>
<text font-size="12.90" transform="translate(239.79 551.00) scale(1.3494 1.0000)">−</text>
<text font-size="12.90" transform="translate(250.47 550.00) scale(1.1260 1.0000)">3</text>
<text font-size="18.60" transform="translate(375.76 557.00) scale(1.0765 1.0000)">10</text>
<text font-size="12.90" transform="translate(395.65 551.00) scale(1.3494 1.0000)">−</text>
<text font-size="12.90" transform="translate(406.36 550.00) scale(1.1602 1.0000)">2</text>
<text font-size="18.60" transform="translate(531.62 557.00) scale(1.0765 1.0000)">10</text>
<text font-size="12.90" transform="translate(551.51 551.00) scale(1.3494 1.0000)">−</text>
<text font-size="12.90" transform="translate(562.88 550.00) scale(0.8808 1.0000)">1</text>
<g transform="translate(22.40 350.60) rotate(-90)"><text font-size="31.50" transform="translate(-2.26 0) scale(0.9561 1)">|</text></g>
<g transform="translate(22.40 344.40) rotate(-90)"><path fill-rule="evenodd" d="M0.00 0.00L10.95 -21.40L21.90 0.00ZM2.04 -1.80L10.11 -17.56L18.17 -1.80Z"/></g>
<g transform="translate(22.70 320.10) rotate(-90)"><text font-size="30.50" transform="translate(-1.21 0) scale(0.9680 1)">O</text></g>
<g transform="translate(22.70 298.20) rotate(-90)"><text font-size="30.50" transform="translate(-1.10 0) scale(0.9438 1)">o</text></g>
<g transform="translate(22.40 284.30) rotate(-90)"><text font-size="30.50" transform="translate(-0.55 0) scale(0.9054 1)">r</text></g>
<g transform="translate(22.70 272.50) rotate(-90)"><text font-size="30.50" transform="translate(-0.32 0) scale(1.0879 1)">t</text></g>
<g transform="translate(22.40 251.90) rotate(-90)"><text class="i" font-size="30.50" transform="translate(1.68 0) scale(1.0048 1)">A</text></g>
<g transform="translate(22.40 225.60) rotate(-90)"><text font-size="30.50" transform="translate(-0.87 0) scale(0.7485 1)">,</text></g>
<g transform="translate(22.40 210.30) rotate(-90)"><text class="i" font-size="30.50" transform="translate(-0.28 0) scale(0.9843 1)">B</text></g>
<g transform="translate(22.40 187.60) rotate(-90)"><text font-size="31.50" transform="translate(-2.42 0) scale(1.0199 1)">|</text></g>
<text class="i" font-size="28.50" transform="translate(307.81 587.50) scale(1.1779 1.0000)">υ</text>
<text class="i" font-size="19.50" transform="translate(322.35 592.50) scale(1.1261 1.0000)">a</text>
<path d="M347.20 565.50L334.60 598.00" stroke="#000" stroke-width="1.15" fill="none"/>
<text class="i" font-size="28.50" transform="translate(347.66 587.50) scale(1.2144 1.0000)">υ</text>
<text font-size="19.50" transform="translate(362.43 592.50) scale(1.0406 1.0000)">0</text>
<text font-size="30.10" transform="translate(90.18 352.20) scale(1.0673 1.0000)">|</text>
<path fill-rule="evenodd" d="M98.30 352.00L108.45 332.20L118.60 352.00ZM100.30 350.30L107.61 336.04L114.92 350.30Z"/>
<text class="i" font-size="29.50" transform="translate(122.47 352.00) scale(0.9121 1.0000)">A</text>
<text font-size="30.10" transform="translate(140.48 352.20) scale(1.0673 1.0000)">|</text>
<text font-size="30.10" transform="translate(90.18 475.50) scale(1.0673 1.0000)">|</text>
<path fill-rule="evenodd" d="M98.30 475.30L108.45 455.50L118.60 475.30ZM100.30 473.60L107.61 459.34L114.92 473.60Z"/>
<text class="i" font-size="29.50" transform="translate(121.40 475.30) scale(1.0879 1.0000)">B</text>
<text font-size="30.10" transform="translate(142.48 475.50) scale(1.0673 1.0000)">|</text>
<text font-size="22.20" transform="translate(165.34 40.00) scale(1.0380 1.0000)">Fiducial</text>
<text font-size="22.20" transform="translate(248.56 39.83) scale(0.9646 1.0926)">(</text>
<text font-size="22.20" transform="translate(299.31 39.83) scale(0.9646 1.0926)">)</text>
<text font-size="22.20" transform="translate(273.60 40.00) scale(1.0586 1.0000)">,</text>
<path d="M257.80 34.50H270.70" stroke="#000" stroke-width="1.00" fill="none"/>
<path d="M283.80 34.50H297.70" stroke="#000" stroke-width="1.00" fill="none"/>
<path d="M290.75 27.80V41.20" stroke="#000" stroke-width="1.00" fill="none"/>
<text font-size="22.20" transform="translate(164.46 73.00) scale(1.0403 1.0000)">Shu</text>
<text font-size="22.80" transform="translate(206.29 73.00) scale(1.0736 1.0000)">DF</text>
<text font-size="22.20" transform="translate(244.27 72.83) scale(1.0523 1.0926)">(</text>
<text font-size="22.20" transform="translate(289.33 72.83) scale(0.9295 1.0926)">)</text>
<text font-size="22.20" transform="translate(269.16 73.00) scale(0.9981 1.0000)">,</text>
<path d="M253.20 67.50H266.70" stroke="#000" stroke-width="1.00" fill="none"/>
<text font-size="22.20" transform="translate(278.36 73.00) scale(1.0778 1.0000)">?</text>
<text class="i" font-size="22.20" transform="translate(165.10 105.70) scale(1.1198 1.0000)">h</text>
<text class="i" font-size="15.50" transform="translate(178.40 109.50) scale(1.1728 1.0000)">R</text>
<path d="M197.90 98.40H211.70" stroke="#000" stroke-width="1.00" fill="none"/>
<path d="M197.90 102.50H211.70" stroke="#000" stroke-width="1.00" fill="none"/>
<text class="i" font-size="22.20" transform="translate(220.13 105.70) scale(1.1269 1.0000)">R</text>
<text font-size="15.50" transform="translate(235.14 109.50) scale(1.1264 1.0000)">0</text>
<path d="M253.10 89.60L246.30 111.20" stroke="#000" stroke-width="1.00" fill="none"/>
<text font-size="22.20" transform="translate(255.48 105.70) scale(0.9787 1.0000)">4</text>
<text font-size="22.20" transform="translate(273.21 105.53) scale(1.0172 1.0926)">(</text>
<text font-size="22.20" transform="translate(324.27 105.53) scale(1.0172 1.0926)">)</text>
<text font-size="22.20" transform="translate(298.36 105.70) scale(0.9981 1.0000)">,</text>
<path d="M282.00 100.20H295.50" stroke="#000" stroke-width="1.00" fill="none"/>
<path d="M307.80 100.20H323.00" stroke="#000" stroke-width="1.00" fill="none"/>
<path d="M315.40 93.50V106.90" stroke="#000" stroke-width="1.00" fill="none"/>
<text class="i" font-size="22.20" transform="translate(165.10 141.70) scale(1.1198 1.0000)">h</text>
<text class="i" font-size="15.50" transform="translate(178.40 145.50) scale(1.1728 1.0000)">R</text>
<path d="M197.90 134.10H211.70" stroke="#000" stroke-width="1.00" fill="none"/>
<path d="M197.90 138.10H211.70" stroke="#000" stroke-width="1.00" fill="none"/>
<text class="i" font-size="22.20" transform="translate(220.13 141.70) scale(1.1269 1.0000)">R</text>
<text font-size="15.50" transform="translate(235.14 145.50) scale(1.1264 1.0000)">0</text>
<path d="M253.10 125.60L246.30 147.20" stroke="#000" stroke-width="1.00" fill="none"/>
<text font-size="22.20" transform="translate(255.00 141.70) scale(1.0225 1.0000)">2</text>
<text font-size="22.20" transform="translate(273.21 141.53) scale(1.0172 1.0926)">(</text>
<text font-size="22.20" transform="translate(324.27 141.53) scale(1.0172 1.0926)">)</text>
<text font-size="22.20" transform="translate(298.36 141.70) scale(0.9981 1.0000)">,</text>
<path d="M282.00 136.20H295.50" stroke="#000" stroke-width="1.00" fill="none"/>
<path d="M307.80 136.20H323.00" stroke="#000" stroke-width="1.00" fill="none"/>
<path d="M315.40 129.50V142.90" stroke="#000" stroke-width="1.00" fill="none"/>
<text class="i" font-size="22.20" transform="translate(165.10 177.60) scale(1.1198 1.0000)">h</text>
<text class="i" font-size="15.50" transform="translate(176.72 179.90) scale(1.2640 1.0000)">σ</text>
<path d="M195.40 169.50H208.90" stroke="#000" stroke-width="1.00" fill="none"/>
<path d="M195.40 173.60H208.90" stroke="#000" stroke-width="1.00" fill="none"/>
<text font-size="22.20" transform="translate(216.90 177.60) scale(0.9214 1.0000)">2</text>
<text class="i" font-size="22.20" transform="translate(228.43 177.60) scale(1.1269 1.0000)">R</text>
<text font-size="15.50" transform="translate(243.53 181.40) scale(1.1417 1.0000)">0</text>
<path d="M261.70 161.00L254.40 182.00" stroke="#000" stroke-width="1.00" fill="none"/>
<text font-size="22.20" transform="translate(262.99 177.80) scale(1.0468 1.0000)">3</text>
<text font-size="22.20" transform="translate(281.51 177.43) scale(1.0172 1.0926)">(</text>
<text font-size="22.20" transform="translate(332.56 177.43) scale(1.0348 1.0926)">)</text>
<text font-size="22.20" transform="translate(306.66 177.60) scale(0.9981 1.0000)">,</text>
<path d="M290.30 172.10H303.90" stroke="#000" stroke-width="1.00" fill="none"/>
<path d="M317.00 172.10H331.40" stroke="#000" stroke-width="1.00" fill="none"/>
<text class="i" font-size="20.80" transform="translate(424.58 409.00) scale(1.1347 1.0000)">β</text>
<path d="M445.10 401.90H458.50" stroke="#000" stroke-width="1.00" fill="none"/>
<path d="M445.10 406.00H458.50" stroke="#000" stroke-width="1.00" fill="none"/>
<path d="M467.90 404.10H481.30" stroke="#000" stroke-width="1.00" fill="none"/>
<text font-size="23.50" transform="translate(483.01 410.20) scale(0.8835 1.0000)">0</text>
<text font-size="23.50" transform="translate(494.11 410.00) scale(0.9003 1.0000)">.</text>
<text font-size="23.50" transform="translate(498.98 410.00) scale(0.9791 1.0000)">1</text>
<text font-size="22.20" transform="translate(518.46 409.43) scale(0.8594 1.0727)">(</text>
<text font-size="22.20" transform="translate(569.70 409.43) scale(0.8418 1.0727)">)</text>
<text font-size="22.20" transform="translate(542.73 410.00) scale(1.1494 1.0000)">,</text>
<path d="M527.20 404.00H540.70" stroke="#000" stroke-width="1.00" fill="none"/>
<path d="M553.20 404.00H567.80" stroke="#000" stroke-width="1.00" fill="none"/>
<path d="M560.50 397.50V410.50" stroke="#000" stroke-width="1.00" fill="none"/>
<text class="i" font-size="20.80" transform="translate(424.58 442.00) scale(1.1347 1.0000)">β</text>
<path d="M445.10 434.90H458.50" stroke="#000" stroke-width="1.00" fill="none"/>
<path d="M445.10 439.00H458.50" stroke="#000" stroke-width="1.00" fill="none"/>
<text font-size="23.50" transform="translate(483.01 443.20) scale(0.8835 1.0000)">0</text>
<text font-size="23.50" transform="translate(494.11 443.00) scale(0.9003 1.0000)">.</text>
<text font-size="23.50" transform="translate(498.98 443.00) scale(0.9791 1.0000)">1</text>
<text font-size="22.20" transform="translate(518.46 442.43) scale(0.8594 1.0727)">(</text>
<text font-size="22.20" transform="translate(569.70 442.43) scale(0.8418 1.0727)">)</text>
<text font-size="22.20" transform="translate(542.73 443.00) scale(1.1494 1.0000)">,</text>
<path d="M527.20 437.00H540.70" stroke="#000" stroke-width="1.00" fill="none"/>
<path d="M553.20 437.00H567.80" stroke="#000" stroke-width="1.00" fill="none"/>
<text class="i" font-size="20.80" transform="translate(424.58 475.00) scale(1.1347 1.0000)">β</text>
<path d="M445.10 467.90H458.50" stroke="#000" stroke-width="1.00" fill="none"/>
<path d="M445.10 472.00H458.50" stroke="#000" stroke-width="1.00" fill="none"/>
<path d="M467.90 470.10H481.30" stroke="#000" stroke-width="1.00" fill="none"/>
<text font-size="23.50" transform="translate(483.01 476.20) scale(0.8835 1.0000)">0</text>
<text font-size="23.50" transform="translate(494.11 476.00) scale(0.9003 1.0000)">.</text>
<text font-size="23.50" transform="translate(499.24 476.00) scale(1.0297 1.0000)">2</text>
<text font-size="22.20" transform="translate(518.46 475.43) scale(0.8594 1.0727)">(</text>
<text font-size="22.20" transform="translate(569.70 475.43) scale(0.8418 1.0727)">)</text>
<text font-size="22.20" transform="translate(542.73 476.00) scale(1.1494 1.0000)">,</text>
<path d="M527.20 470.00H540.70" stroke="#000" stroke-width="1.00" fill="none"/>
<path d="M553.20 470.00H567.80" stroke="#000" stroke-width="1.00" fill="none"/>
<path d="M560.50 463.50V476.50" stroke="#000" stroke-width="1.00" fill="none"/>
<text class="i" font-size="20.80" transform="translate(424.58 508.00) scale(1.1347 1.0000)">β</text>
<path d="M445.10 500.90H458.50" stroke="#000" stroke-width="1.00" fill="none"/>
<path d="M445.10 505.00H458.50" stroke="#000" stroke-width="1.00" fill="none"/>
<text font-size="23.50" transform="translate(483.01 509.20) scale(0.8835 1.0000)">0</text>
<text font-size="23.50" transform="translate(494.11 509.00) scale(0.9003 1.0000)">.</text>
<text font-size="23.50" transform="translate(499.24 509.00) scale(1.0297 1.0000)">2</text>
<text font-size="22.20" transform="translate(518.46 508.43) scale(0.8594 1.0727)">(</text>
<text font-size="22.20" transform="translate(569.70 508.43) scale(0.8418 1.0727)">)</text>
<text font-size="22.20" transform="translate(542.73 509.00) scale(1.1494 1.0000)">,</text>
<path d="M527.20 503.00H540.70" stroke="#000" stroke-width="1.00" fill="none"/>
<path d="M553.20 503.00H567.80" stroke="#000" stroke-width="1.00" fill="none"/>
</svg>
</body></html>
